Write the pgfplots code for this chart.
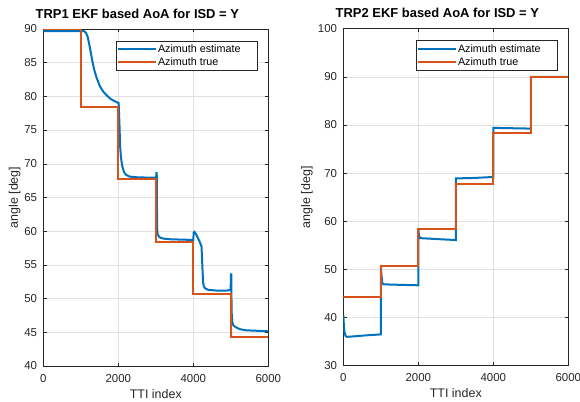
\documentclass[border=0pt]{standalone}
\usepackage{fontspec}
\setmainfont{Liberation Sans}
\usepackage{pgfplots}
\pgfplotsset{compat=1.18}
\definecolor{mblue}{rgb}{0,0.447,0.741}
\definecolor{mred}{rgb}{0.85,0.325,0.098}
\definecolor{axgray}{gray}{0.15}
\definecolor{gridgray}{gray}{0.88}
\pgfplotsset{
  matlab/.style={
    scale only axis, width=225bp, height=337bp,
    anchor=south west,
    xmin=0, xmax=6000, xtick={0,2000,4000,6000},
    axis line style={axgray, line width=0.6bp},
    tick style={axgray, line width=0.6bp},
    major tick length=3.4bp,
    tick align=inside,
    xtick pos=both, ytick pos=both,
    grid=major, major grid style={gridgray, line width=0.5bp},
    ticklabel style={font=\fontsize{11.5}{13}\selectfont, text=axgray},
    /pgf/number format/assume math mode=true,
    /pgf/number format/set thousands separator={},
    scaled ticks=false,
    yticklabel style={inner sep=0pt, xshift=-6bp},
    xticklabel style={inner sep=0pt, yshift=-8bp},
    label style={font=\fontsize{12.5}{14}\selectfont, text=axgray},
    xlabel style={at={(axis description cs:0.5,-0.095)}, anchor=base},
    title style={font=\bfseries\fontsize{13}{15}\selectfont, at={(axis description cs:0.418,1.0148)}, anchor=base},
    legend style={at={(0.951,0.965)}, anchor=north east, draw=axgray, line width=0.5bp,
      font=\fontsize{10.8}{12.5}\selectfont, inner xsep=1bp, inner ysep=1.5bp, row sep=0bp},
    legend cell align=left,
    legend image code/.code={\draw[##1] (0bp,0bp) -- (38bp,0bp);},
  }
}
\begin{document}
\begin{tikzpicture}
\path[use as bounding box] (0,0) rectangle (580bp,402bp);
\begin{axis}[matlab, at={(43.3bp,36bp)},
  ymin=40, ymax=90, ytick={40,45,...,90},
  title={TRP1 EKF based AoA for ISD = Y},
  xlabel={TTI index}, ylabel={angle [deg]},
  ylabel style={at={(axis description cs:-0.113,0.5)}, anchor=base}]
\addplot[mblue, line width=2bp] coordinates {
(0,89.7) (1000,89.7) (1080,89.7) (1130,89.5) (1180,88.9) (1220,87.9) (1260,86.7)
(1310,85.2) (1360,83.9) (1420,82.8) (1510,81.5) (1600,80.7) (1700,80.1) (1800,79.6)
(1900,79.3) (2010,79.0) (2030,76) (2050,72.5) (2070,71) (2100,69.8) (2150,68.8)
(2200,68.4) (2300,68.1) (2500,68.0) (2800,67.95) (3010,67.95) (3015,68.6) (3025,68.6)
(3035,60.5) (3050,59.5) (3100,59.1) (3200,58.9) (3400,58.8) (3700,58.75) (4000,58.7)
(4010,59.8) (4030,59.9) (4080,59.5) (4130,58.9) (4180,58.3) (4220,57.7) (4240,55)
(4260,52.5) (4280,51.8) (4320,51.5) (4400,51.3) (4600,51.2) (4900,51.2) (4995,51.3)
(5005,53.6) (5012,53.6) (5022,48) (5040,46.5) (5070,46.0) (5150,45.7) (5250,45.45)
(5400,45.3) (5600,45.25) (6000,45.15)};
\addlegendentry{\hspace*{-1bp}\makebox[96bp][l]{Azimuth estimate}}
\addplot[mred, line width=2bp] coordinates {
(0,90) (1000,90) (1000,78.4) (2000,78.4) (2000,67.7) (3000,67.7) (3000,58.45)
(4000,58.45) (4000,50.65) (5000,50.65) (5000,44.35) (6000,44.35)};
\addlegendentry{\hspace*{-1bp}Azimuth true}
\end{axis}
\begin{axis}[matlab, at={(343.3bp,36.3bp)},
  ymin=30, ymax=100, ytick={30,40,...,100},
  title={TRP2 EKF based AoA for ISD = Y},
  xlabel={TTI index}, ylabel={angle [deg]},
  ylabel style={at={(axis description cs:-0.147,0.5)}, anchor=base}]
\addplot[mblue, line width=2bp] coordinates {
(0,40.5) (10,39) (30,37) (60,36.2) (100,36.0) (300,36.1) (600,36.3) (1000,36.5)
(1005,50.3) (1015,49) (1040,47.2) (1070,46.9) (1500,46.8) (2000,46.7)
(2005,58.2) (2015,57.2) (2040,56.5) (2500,56.3) (3000,56.1)
(3005,68.9) (3500,69.0) (4000,69.2) (4005,79.4) (5000,79.25) (5005,90) (6000,90)};
\addlegendentry{\hspace*{-1bp}\makebox[96bp][l]{Azimuth estimate}}
\addplot[mred, line width=2bp] coordinates {
(0,44.3) (1000,44.3) (1000,50.65) (2000,50.65) (2000,58.4) (3000,58.4) (3000,67.7)
(4000,67.7) (4000,78.4) (5000,78.4) (5000,90) (6000,90)};
\addlegendentry{\hspace*{-1bp}Azimuth true}
\end{axis}
\end{tikzpicture}
\end{document}
